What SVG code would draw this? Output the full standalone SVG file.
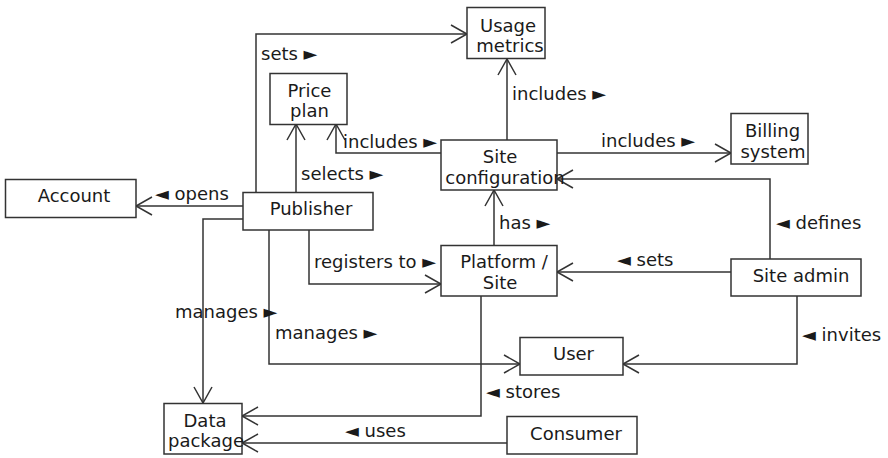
<svg xmlns="http://www.w3.org/2000/svg" width="888" height="458" viewBox="0 0 888 458">
  <style>
    .box { fill: #ffffff; stroke: #333333; stroke-width: 1.5; }
    .lbl { font-family: "DejaVu Sans", sans-serif; font-size: 18px; fill: #1a1a1a; }
    .c { text-anchor: middle; }
    .edge { fill: none; stroke: #333333; stroke-width: 1.5; marker-end: url(#open); }
  </style>
  <defs>
    <marker id="open" markerUnits="userSpaceOnUse" markerWidth="20" markerHeight="22" refX="18" refY="10" orient="auto" overflow="visible">
      <path d="M2,1 L18,10 L2,19" fill="none" stroke="#333333" stroke-width="1.5"/>
    </marker>
  </defs>
  <rect width="888" height="458" fill="#ffffff"/>

  <g id="connectors">
    <path class="edge" d="M256,192 V34 H467"/>
    <path class="edge" d="M296,192 V124"/>
    <path class="edge" d="M441,153 H336 V124"/>
    <path class="edge" d="M507,140 V59"/>
    <path class="edge" d="M557,153 H731"/>
    <path class="edge" d="M770,259 V179 H557"/>
    <path class="edge" d="M494,245 V190"/>
    <path class="edge" d="M731,272 H557"/>
    <path class="edge" d="M243,206 H136"/>
    <path class="edge" d="M309,230 V284 H441"/>
    <path class="edge" d="M243,219 H203 V403"/>
    <path class="edge" d="M269,230 V364 H520"/>
    <path class="edge" d="M481,296 V416 H242"/>
    <path class="edge" d="M507,443 H242"/>
    <path class="edge" d="M797,296 V364 H623"/>
    <text class="lbl" x="261" y="60">sets ►</text>
    <text class="lbl" x="301" y="180">selects ►</text>
    <text class="lbl" x="343" y="148">includes ►</text>
    <text class="lbl" x="512" y="100">includes ►</text>
    <text class="lbl" x="601" y="147">includes ►</text>
    <text class="lbl" x="776" y="229">◄ defines</text>
    <text class="lbl" x="499" y="229">has ►</text>
    <text class="lbl" x="617" y="266">◄ sets</text>
    <text class="lbl" x="155" y="200">◄ opens</text>
    <text class="lbl" x="314" y="268">registers to ►</text>
    <text class="lbl" x="175" y="318">manages ►</text>
    <text class="lbl" x="275" y="339">manages ►</text>
    <text class="lbl" x="486" y="398">◄ stores</text>
    <text class="lbl" x="345" y="437">◄ uses</text>
    <text class="lbl" x="802" y="341">◄ invites</text>
  </g>

  <g id="usage-metrics">
    <rect class="box" x="467" y="7.5" width="78" height="51"/>
    <text class="lbl c" x="508" y="32">Usage</text>
    <text class="lbl c" x="510" y="52">metrics</text>
  </g>
  <g id="price-plan">
    <rect class="box" x="270" y="73.5" width="77" height="51"/>
    <text class="lbl c" x="309.5" y="97">Price</text>
    <text class="lbl c" x="309.5" y="117">plan</text>
  </g>
  <g id="site-configuration">
    <rect class="box" x="441" y="140" width="116" height="50"/>
    <text class="lbl c" x="500" y="163">Site</text>
    <text class="lbl c" x="505" y="184">configuration</text>
  </g>
  <g id="billing-system">
    <rect class="box" x="731" y="113.5" width="77" height="50.5"/>
    <text class="lbl c" x="772.5" y="137">Billing</text>
    <text class="lbl c" x="773" y="158">system</text>
  </g>
  <g id="account">
    <rect class="box" x="5.5" y="179.5" width="130.5" height="38"/>
    <text class="lbl c" x="74" y="202">Account</text>
  </g>
  <g id="publisher">
    <rect class="box" x="243" y="192.5" width="130" height="37.5"/>
    <text class="lbl c" x="311" y="215">Publisher</text>
  </g>
  <g id="platform-site">
    <rect class="box" x="441" y="245.5" width="116" height="50.5"/>
    <text class="lbl c" x="504" y="268">Platform /</text>
    <text class="lbl c" x="500" y="289">Site</text>
  </g>
  <g id="site-admin">
    <rect class="box" x="731" y="259" width="130" height="37"/>
    <text class="lbl c" x="801" y="282">Site admin</text>
  </g>
  <g id="user">
    <rect class="box" x="520" y="337.5" width="103" height="37.5"/>
    <text class="lbl c" x="573.5" y="360">User</text>
  </g>
  <g id="data-package">
    <rect class="box" x="164" y="403.5" width="78" height="50.5"/>
    <text class="lbl c" x="205" y="427">Data</text>
    <text class="lbl c" x="206" y="447">package</text>
  </g>
  <g id="consumer">
    <rect class="box" x="507" y="416.5" width="130" height="37.5"/>
    <text class="lbl c" x="576" y="440">Consumer</text>
  </g>
</svg>
